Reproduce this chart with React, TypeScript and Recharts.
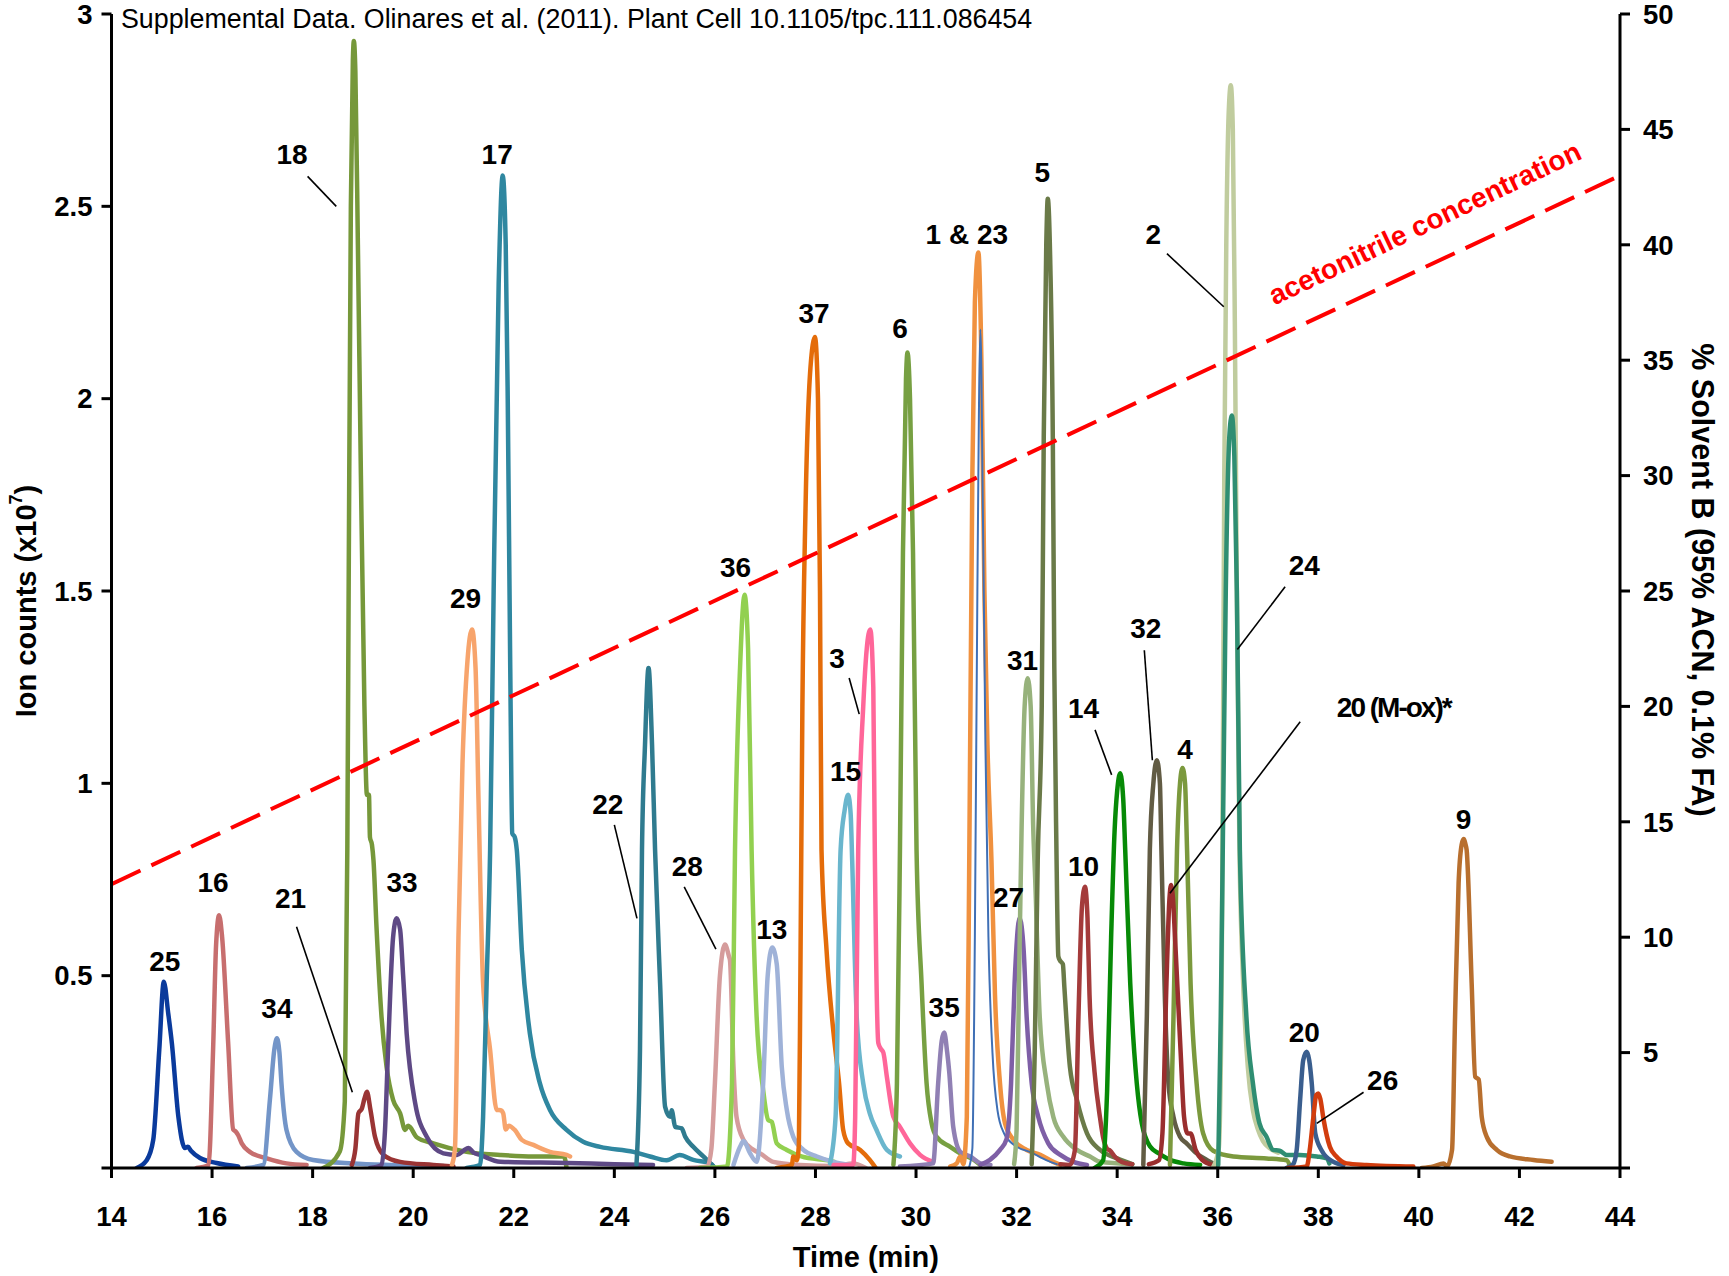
import React from 'react';
import { ComposedChart, Line, Scatter, XAxis, YAxis, ReferenceLine } from 'recharts';

const FONT = "'Liberation Sans', Arial, Helvetica, sans-serif";

// axis ticks
const TIME_TICKS = [14, 16, 18, 20, 22, 24, 26, 28, 30, 32, 34, 36, 38, 40, 42, 44];
const ION_TICKS = [0, 0.5, 1, 1.5, 2, 2.5, 3];
const SOLVENT_TICKS = [0, 5, 10, 15, 20, 25, 30, 35, 40, 45, 50];

// extracted ion chromatograms, [time (min), ion counts x10^7]
const PEAK_25 = [[14.5, 0], [14.7, 0.02], [14.83, 0.073], [14.95, 0.307], [15.04, 0.484], [15.13, 0.4], [15.2, 0.325], [15.33, 0.133], [15.46, 0.052], [15.52, 0.055], [15.58, 0.045], [15.76, 0.026], [16.09, 0.013], [16.52, 0.004]];
const PEAK_16 = [[15.69, 0], [15.93, 0.008], [16.02, 0.306], [16.08, 0.58], [16.14, 0.657], [16.2, 0.6], [16.32, 0.325], [16.42, 0.1], [16.47, 0.095], [16.52, 0.085], [16.59, 0.064], [16.75, 0.042], [17.09, 0.025], [17.48, 0.012], [17.88, 0.008]];
const PEAK_34 = [[16.69, 0], [17.02, 0.008], [17.15, 0.177], [17.24, 0.31], [17.29, 0.337], [17.34, 0.3], [17.38, 0.22], [17.48, 0.099], [17.68, 0.042], [18.01, 0.021], [18.8, 0.012], [19.6, 0.008], [20.6, 0.005]];
const PEAK_18 = [[18.21, 0], [18.54, 0.043], [18.64, 0.174], [18.69, 0.83], [18.72, 1.6], [18.76, 2.5], [18.8, 2.88], [18.82, 2.93], [18.85, 2.85], [18.9, 2.4], [18.96, 1.8], [19.03, 1.2], [19.08, 0.97], [19.12, 0.97], [19.14, 0.86], [19.18, 0.84], [19.21, 0.8], [19.27, 0.627], [19.37, 0.393], [19.47, 0.263], [19.6, 0.177], [19.74, 0.142], [19.84, 0.099], [19.9, 0.11], [19.94, 0.106], [20.07, 0.08], [20.4, 0.064], [21.06, 0.042], [21.73, 0.034], [22.39, 0.03], [23.0, 0.03], [23.05, 0]];
const PEAK_21 = [[18.78, 0.008], [18.85, 0.05], [18.91, 0.142], [18.98, 0.155], [19.03, 0.18], [19.08, 0.198], [19.15, 0.151], [19.24, 0.081], [19.41, 0.034], [19.74, 0.016], [20.4, 0.008], [20.8, 0.004]];
const PEAK_33 = [[19.14, 0], [19.37, 0.008], [19.44, 0.1], [19.5, 0.307], [19.6, 0.6], [19.67, 0.649], [19.74, 0.62], [19.8, 0.5], [19.87, 0.35], [20.04, 0.168], [20.27, 0.081], [20.6, 0.038], [20.87, 0.034], [21.0, 0.045], [21.1, 0.052], [21.2, 0.04], [21.33, 0.034], [21.73, 0.016], [23.05, 0.013], [24.0, 0.01], [24.77, 0.008]];
const PEAK_29 = [[20.77, 0.008], [20.83, 0.05], [20.9, 0.6], [20.98, 1.05], [21.08, 1.32], [21.17, 1.4], [21.24, 1.3], [21.3, 0.95], [21.39, 0.48], [21.53, 0.307], [21.66, 0.151], [21.74, 0.15], [21.79, 0.142], [21.84, 0.1], [21.9, 0.11], [22.02, 0.099], [22.16, 0.073], [22.39, 0.06], [22.72, 0.042], [23.05, 0.034], [23.12, 0.03]];
const PEAK_17 = [[21.06, 0], [21.33, 0.008], [21.39, 0.133], [21.46, 0.48], [21.53, 0.827], [21.6, 1.5], [21.7, 2.3], [21.78, 2.58], [21.84, 2.4], [21.88, 2.0], [21.93, 1.3], [21.97, 0.87], [22.02, 0.86], [22.06, 0.827], [22.16, 0.567], [22.32, 0.35], [22.52, 0.22], [22.72, 0.151], [23.05, 0.099], [23.38, 0.068], [23.72, 0.055], [24.38, 0.042], [24.71, 0.03], [25.04, 0.02], [25.3, 0.034], [25.57, 0.021], [25.9, 0.013], [26.0, 0]];
const PEAK_22 = [[24.44, 0.008], [24.51, 0.307], [24.55, 0.827], [24.61, 1.1], [24.68, 1.3], [24.75, 1.1], [24.81, 0.827], [24.91, 0.48], [25.01, 0.159], [25.11, 0.133], [25.14, 0.15], [25.21, 0.107], [25.34, 0.103], [25.41, 0.081], [25.57, 0.055], [25.77, 0.03], [25.97, 0.004]];
const PEAK_28 = [[25.44, 0], [25.85, 0.004], [25.93, 0.05], [26.0, 0.22], [26.1, 0.5], [26.2, 0.581], [26.28, 0.55], [26.3, 0.54], [26.37, 0.263], [26.43, 0.133], [26.57, 0.073], [26.77, 0.047], [26.9, 0.038], [27.16, 0.016], [27.69, 0.008], [28.36, 0.005], [28.75, 0.012], [29.0, 0]];
const PEAK_36 = [[25.7, 0], [26.24, 0.004], [26.34, 0.22], [26.4, 0.827], [26.5, 1.3], [26.59, 1.49], [26.66, 1.35], [26.73, 0.827], [26.83, 0.393], [26.96, 0.203], [27.06, 0.125], [27.13, 0.12], [27.23, 0.064], [27.43, 0.047], [27.72, 0.03], [28.38, 0.016], [28.42, 0]];
const PEAK_13 = [[26.37, 0.008], [26.5, 0.055], [26.57, 0.07], [26.7, 0.038], [26.83, 0.016], [26.96, 0.22], [27.05, 0.5], [27.14, 0.573], [27.23, 0.53], [27.33, 0.263], [27.43, 0.151], [27.56, 0.081], [27.76, 0.047], [28.03, 0.03], [28.36, 0.016], [28.69, 0.008]];
const PEAK_37 = [[27.23, 0], [27.53, 0.008], [27.56, 0.03], [27.63, 0.02], [27.67, 0.06], [27.7, 0.5], [27.74, 1.2], [27.8, 1.7], [27.9, 2.08], [27.99, 2.16], [28.05, 2.0], [28.09, 1.5], [28.12, 0.827], [28.22, 0.567], [28.36, 0.35], [28.47, 0.22], [28.55, 0.1], [28.65, 0.064], [28.89, 0.047], [29.08, 0.021], [29.2, 0]];
const PEAK_15 = [[28.29, 0.012], [28.4, 0.133], [28.5, 0.827], [28.58, 0.93], [28.65, 0.97], [28.7, 0.92], [28.73, 0.8], [28.82, 0.393], [28.95, 0.22], [29.08, 0.142], [29.21, 0.1], [29.42, 0.047], [29.68, 0.03]];
const PEAK_3 = [[28.36, 0.008], [28.75, 0.008], [28.79, 0.133], [28.85, 0.827], [28.95, 1.2], [29.02, 1.35], [29.09, 1.4], [29.15, 1.25], [29.18, 0.827], [29.25, 0.325], [29.3, 0.31], [29.35, 0.3], [29.42, 0.237], [29.55, 0.133], [29.68, 0.107], [29.88, 0.064], [30.08, 0.034], [30.34, 0.016]];
const PEAK_6 = [[29.55, 0.008], [29.62, 0.22], [29.68, 0.827], [29.74, 1.6], [29.8, 2.05], [29.83, 2.12], [29.88, 2.0], [29.94, 1.6], [30.01, 0.827], [30.11, 0.48], [30.21, 0.22], [30.31, 0.116], [30.41, 0.081], [30.68, 0.055], [30.88, 0.038], [31.15, 0.021], [31.28, 0.008]];
const PEAK_35 = [[29.68, 0.004], [30.34, 0.012], [30.44, 0.22], [30.51, 0.33], [30.56, 0.352], [30.62, 0.3], [30.66, 0.25], [30.74, 0.107], [30.88, 0.042], [31.08, 0.03], [31.28, 0.012], [31.48, 0.008]];
const PEAK_1 = [[30.68, 0.004], [30.81, 0.012], [30.88, 0.03], [30.94, 0.01], [31.01, 0.133], [31.06, 0.827], [31.12, 1.8], [31.17, 2.25], [31.24, 2.38], [31.3, 2.1], [31.36, 1.5], [31.42, 1.1], [31.5, 0.8], [31.57, 0.45], [31.67, 0.22], [31.77, 0.116], [31.94, 0.073], [32.2, 0.047], [32.47, 0.034], [32.73, 0.016], [32.87, 0.008]];
const PEAK_23 = [[31.05, 0], [31.12, 0.05], [31.17, 0.6], [31.22, 1.5], [31.28, 2.18], [31.33, 1.7], [31.38, 1.1], [31.44, 0.6], [31.52, 0.3], [31.62, 0.15], [31.75, 0.09], [31.95, 0.06], [32.3, 0.04], [32.6, 0.02], [32.8, 0.01]];
const PEAK_27 = [[31.28, 0.008], [31.47, 0.021], [31.67, 0.047], [31.8, 0.075], [31.89, 0.22], [31.96, 0.48], [32.06, 0.649], [32.14, 0.567], [32.2, 0.393], [32.3, 0.22], [32.43, 0.133], [32.63, 0.064], [32.87, 0.034], [33.13, 0.016], [33.4, 0.008]];
const PEAK_31 = [[31.95, 0.01], [32.0, 0.1], [32.05, 0.5], [32.1, 0.887], [32.16, 1.2], [32.22, 1.273], [32.28, 1.2], [32.33, 0.887], [32.37, 0.75], [32.46, 0.393], [32.6, 0.22], [32.73, 0.133], [32.93, 0.081], [33.2, 0.047], [33.46, 0.03], [33.66, 0.016], [34.3, 0.01]];
const PEAK_5 = [[32.3, 0.01], [32.36, 0.3], [32.42, 0.8], [32.5, 1.2], [32.54, 1.9], [32.59, 2.4], [32.62, 2.52], [32.67, 2.35], [32.72, 1.9], [32.75, 1.3], [32.79, 0.85], [32.83, 0.55], [32.86, 0.54], [32.92, 0.53], [32.95, 0.47], [33.06, 0.263], [33.2, 0.177], [33.4, 0.09], [33.66, 0.047], [34.0, 0.025], [34.3, 0.01]];
const PEAK_10 = [[32.87, 0.01], [33.06, 0.008], [33.16, 0.047], [33.23, 0.393], [33.3, 0.68], [33.36, 0.731], [33.41, 0.65], [33.45, 0.45], [33.55, 0.25], [33.66, 0.13], [33.72, 0.08], [33.8, 0.05], [33.86, 0.045], [33.95, 0.03], [34.1, 0.015], [34.3, 0.01]];
const PEAK_14 = [[33.55, 0], [33.72, 0.02], [33.8, 0.2], [33.88, 0.6], [33.95, 0.88], [34.0, 0.98], [34.06, 1.026], [34.12, 0.96], [34.16, 0.827], [34.26, 0.48], [34.39, 0.22], [34.49, 0.116], [34.66, 0.055], [34.83, 0.038], [35.05, 0.021], [35.32, 0.012], [35.65, 0.008]];
const PEAK_32 = [[34.52, 0.008], [34.59, 0.393], [34.65, 0.827], [34.72, 1.0], [34.79, 1.06], [34.85, 1.0], [34.88, 0.827], [34.95, 0.437], [35.02, 0.22], [35.12, 0.133], [35.25, 0.081], [35.38, 0.064], [35.58, 0.038], [35.78, 0.021], [35.98, 0.008]];
const PEAK_4 = [[35.05, 0.008], [35.12, 0.393], [35.19, 0.827], [35.25, 1.0], [35.3, 1.04], [35.35, 1.0], [35.39, 0.827], [35.46, 0.48], [35.58, 0.22], [35.71, 0.09], [35.91, 0.045], [36.31, 0.03], [36.97, 0.025], [37.37, 0.02], [37.45, 0]];
const PEAK_20_MOX = [[34.63, 0.01], [34.83, 0.02], [34.9, 0.09], [34.98, 0.48], [35.04, 0.7], [35.07, 0.736], [35.11, 0.7], [35.15, 0.6], [35.26, 0.307], [35.33, 0.133], [35.4, 0.09], [35.46, 0.09], [35.56, 0.047], [35.69, 0.021], [35.89, 0.008]];
const PEAK_2 = [[35.9, 0], [36.02, 0.05], [36.08, 0.5], [36.13, 1.8], [36.17, 2.4], [36.22, 2.75], [36.26, 2.815], [36.3, 2.7], [36.34, 2.2], [36.38, 1.5], [36.43, 0.85], [36.5, 0.5], [36.6, 0.26], [36.7, 0.15], [36.8, 0.1], [36.9, 0.07], [37.05, 0.05], [37.2, 0.04]];
const PEAK_24 = [[36.01, 0.008], [36.06, 0.393], [36.1, 0.827], [36.16, 1.5], [36.23, 1.9], [36.28, 1.956], [36.33, 1.85], [36.38, 1.5], [36.44, 0.827], [36.57, 0.393], [36.7, 0.22], [36.83, 0.116], [36.97, 0.081], [37.1, 0.047], [37.23, 0.045], [37.37, 0.034], [37.63, 0.034], [37.97, 0.03], [38.17, 0.025], [38.22, 0.012]];
const PEAK_20 = [[37.37, 0], [37.5, 0.01], [37.57, 0.047], [37.64, 0.18], [37.7, 0.28], [37.77, 0.302], [37.82, 0.28], [37.87, 0.22], [37.94, 0.09], [38.07, 0.045], [38.3, 0.016], [38.5, 0.008]];
const PEAK_26 = [[37.4, 0], [37.77, 0.004], [37.83, 0.047], [37.9, 0.13], [37.96, 0.19], [38.0, 0.194], [38.04, 0.18], [38.1, 0.13], [38.23, 0.055], [38.36, 0.03], [38.56, 0.012], [38.96, 0.008], [39.89, 0.004]];
const PEAK_9 = [[40.06, 0], [40.29, 0.004], [40.49, 0.012], [40.56, 0.004], [40.66, 0.047], [40.72, 0.393], [40.79, 0.74], [40.85, 0.84], [40.89, 0.855], [40.93, 0.84], [40.95, 0.827], [41.05, 0.48], [41.12, 0.237], [41.19, 0.23], [41.25, 0.133], [41.35, 0.081], [41.55, 0.047], [41.81, 0.03], [42.28, 0.021], [42.64, 0.016]];

// acetonitrile gradient, [time, % solvent B]
const ACN_GRADIENT = [[14, 12.3], [44, 43.0]];

// peak numbers, anchored at [time, ion counts]
const PEAK_LABELS = [
  { text: '25', t: 15.06, v: 0.536 }, { text: '16', t: 16.02, v: 0.743 }, { text: '34', t: 17.29, v: 0.415 },
  { text: '18', t: 17.59, v: 2.635 }, { text: '21', t: 17.56, v: 0.701 }, { text: '33', t: 19.78, v: 0.743 },
  { text: '29', t: 21.04, v: 1.48 }, { text: '17', t: 21.67, v: 2.635 }, { text: '22', t: 23.87, v: 0.946 },
  { text: '28', t: 25.45, v: 0.785 }, { text: '36', t: 26.41, v: 1.56 }, { text: '13', t: 27.13, v: 0.621 },
  { text: '37', t: 27.97, v: 2.222 }, { text: '15', t: 28.6, v: 1.03 }, { text: '3', t: 28.43, v: 1.325 },
  { text: '6', t: 29.68, v: 2.182 }, { text: '35', t: 30.56, v: 0.417 }, { text: '1 & 23', t: 31.01, v: 2.428 },
  { text: '27', t: 31.84, v: 0.704 }, { text: '31', t: 32.12, v: 1.32 }, { text: '5', t: 32.51, v: 2.589 },
  { text: '10', t: 33.33, v: 0.785 }, { text: '14', t: 33.33, v: 1.195 }, { text: '32', t: 34.57, v: 1.403 },
  { text: '4', t: 35.35, v: 1.088 }, { text: '2', t: 34.72, v: 2.428 }, { text: '24', t: 37.72, v: 1.565 },
  { text: '20 (M-ox)*', t: 39.5, v: 1.196 }, { text: '20', t: 37.72, v: 0.352 }, { text: '26', t: 39.28, v: 0.227 },
  { text: '9', t: 40.89, v: 0.906 },
];

// leader lines, [t1, v1, t2, v2]
const LEADERS = [
  [17.9, 2.578, 18.47, 2.5], [17.68, 0.627, 18.79, 0.197], [24.0, 0.892, 24.45, 0.649],
  [25.39, 0.731, 26.02, 0.569], [28.67, 1.274, 28.87, 1.18], [33.56, 1.139, 33.89, 1.022],
  [34.54, 1.346, 34.7, 1.06], [34.99, 2.377, 36.12, 2.239], [37.34, 1.511, 36.39, 1.348],
  [37.64, 1.16, 35.05, 0.714], [38.9, 0.197, 37.97, 0.116],
];

const GRADIENT_LABEL = [{ text: 'acetonitrile concentration', t: 40.12, v: 40.93 }];

const SERIES = [
  { name: '25', color: '#0A3A9C', points: PEAK_25 },
  { name: '16', color: '#C76E6E', points: PEAK_16 },
  { name: '34', color: '#7395C8', points: PEAK_34 },
  { name: '18', color: '#76983A', points: PEAK_18 },
  { name: '21', color: '#9A3434', points: PEAK_21 },
  { name: '33', color: '#5E4985', points: PEAK_33 },
  { name: '29', color: '#F7A46C', points: PEAK_29 },
  { name: '17', color: '#2F87A0', points: PEAK_17 },
  { name: '22', color: '#2F7B8F', points: PEAK_22 },
  { name: '28', color: '#D59C9C', points: PEAK_28 },
  { name: '36', color: '#92D050', points: PEAK_36 },
  { name: '13', color: '#9FB2D8', points: PEAK_13 },
  { name: '37', color: '#E46C0A', points: PEAK_37 },
  { name: '15', color: '#6AB6CD', points: PEAK_15 },
  { name: '3', color: '#FF6699', points: PEAK_3 },
  { name: '6', color: '#77A042', points: PEAK_6 },
  { name: '35', color: '#9080B4', points: PEAK_35 },
  { name: '1', color: '#F0913F', points: PEAK_1 },
  { name: '23', color: '#3F6FB5', points: PEAK_23 },
  { name: '27', color: '#7E5FA6', points: PEAK_27 },
  { name: '31', color: '#97B27C', points: PEAK_31 },
  { name: '5', color: '#6A7A48', points: PEAK_5 },
  { name: '10', color: '#A43B3B', points: PEAK_10 },
  { name: '14', color: '#078A07', points: PEAK_14 },
  { name: '32', color: '#625C44', points: PEAK_32 },
  { name: '4', color: '#7B993D', points: PEAK_4 },
  { name: '20 (M-ox)', color: '#9A2E2E', points: PEAK_20_MOX },
  { name: '2', color: '#C0CC9E', points: PEAK_2 },
  { name: '24', color: '#2F8E72', points: PEAK_24 },
  { name: '20', color: '#3A5E8E', points: PEAK_20 },
  { name: '26', color: '#D23D0E', points: PEAK_26 },
  { name: '9', color: '#B86F2E', points: PEAK_9 },
];
const THIN = new Set(['23']);

const toRows = (pts: number[][]) => pts.map(([t, v]) => ({ t, v }));

// chart covers the whole page, so chart coords = page coords
const W = 1729;
const H = 1276;
const LEFT_W = 111.5;
const RIGHT_W = 109;
const X_H = 108;
const TOP = 14;

const tickStyle = { fontSize: 27.5, fontWeight: 'bold', fill: '#000', fontFamily: FONT };
const axisStroke = { stroke: '#000', strokeWidth: 3 };

function PeakLabel(props: any) {
  const { cx, cy, payload } = props;
  if (cx == null || cy == null) return null;
  const long = payload.text.length > 6;
  return (
    <text
      x={cx} y={cy} textAnchor="middle" dominantBaseline="central" fontFamily={FONT}
      fontSize={28} letterSpacing={long ? -2 : 0} fontWeight="bold" fill="#000"
    >
      {payload.text}
    </text>
  );
}

function GradientLabel(props: any) {
  const { cx, cy, payload } = props;
  if (cx == null || cy == null) return null;
  return (
    <text x={cx} y={cy} textAnchor="middle" dominantBaseline="central" fontFamily={FONT} fontSize={28} fontWeight="bold" fill="#FF0000" transform={`rotate(-25.5 ${cx} ${cy})`}>
      {payload.text}
    </text>
  );
}

function TimeTitle() {
  const cx = LEFT_W + (W - LEFT_W - RIGHT_W) / 2;
  return (
    <text x={cx} y={1257} textAnchor="middle" dominantBaseline="central" fontFamily={FONT} fontSize={29} fontWeight="bold" fill="#000">
      Time (min)
    </text>
  );
}

function IonTitle() {
  return (
    <g>
      <text x={26} y={601} textAnchor="middle" dominantBaseline="central" fontFamily={FONT} fontSize={29} fontWeight="bold" fill="#000" transform="rotate(-90 26 601)">
        Ion counts (x10<tspan fontSize={18} dy={-10}>7</tspan><tspan dy={10}>)</tspan>
      </text>
      <text x={121} y={19} dominantBaseline="central" fontFamily={FONT} fontSize={26.8} fill="#000">
        Supplemental Data. Olinares et al. (2011). Plant Cell 10.1105/tpc.111.086454
      </text>
    </g>
  );
}

function SolventTitle() {
  return (
    <text x={1703} y={580} textAnchor="middle" dominantBaseline="central" fontFamily={FONT} fontSize={30.5} fontWeight="bold" fill="#000" transform="rotate(90 1703 580)">
      % Solvent B (95% ACN, 0.1% FA)
    </text>
  );
}

export default function App() {
  return (
    <div style={{ position: 'absolute', left: 0, top: 0, width: W, height: H, fontFamily: FONT }}>
      <ComposedChart width={W} height={H} margin={{ top: TOP, right: 0, bottom: 0, left: 0 }}>
        <XAxis
          dataKey="t" type="number" domain={[14, 44]} ticks={TIME_TICKS} interval={0} allowDataOverflow
          height={X_H} tickSize={10} tickMargin={28} axisLine={axisStroke} tickLine={axisStroke} tick={tickStyle}
          label={<TimeTitle />}
        />
        <YAxis
          yAxisId="left" type="number" domain={[0, 3]} ticks={ION_TICKS} interval={0} allowDataOverflow
          width={LEFT_W} tickSize={10} tickMargin={9} axisLine={axisStroke} tickLine={axisStroke} tick={tickStyle}
          tickFormatter={(v: number) => (v === 0 ? '' : String(v))}
          label={<IonTitle />}
        />
        <YAxis
          yAxisId="right" orientation="right" type="number" domain={[0, 50]} ticks={SOLVENT_TICKS} interval={0} allowDataOverflow
          width={RIGHT_W} tickSize={10} tickMargin={13} axisLine={axisStroke} tickLine={axisStroke} tick={{ ...tickStyle, textAnchor: 'start' }}
          tickFormatter={(v: number) => (v === 0 ? '' : String(v))}
          label={<SolventTitle />}
        />
        {SERIES.map((s) => (
          <Line
            key={s.name} name={s.name} yAxisId="left" type="monotone" data={toRows(s.points)} dataKey="v"
            stroke={s.color} strokeWidth={THIN.has(s.name) ? 2 : 4.5} strokeLinejoin="round" strokeLinecap="round"
            dot={false} activeDot={false} isAnimationActive={false}
          />
        ))}
        <Line
          yAxisId="right" type="linear" data={toRows(ACN_GRADIENT)} dataKey="v" stroke="#FF0000" strokeWidth={4}
          strokeDasharray="32 12" dot={false} activeDot={false} isAnimationActive={false}
        />
        {LEADERS.map(([t1, v1, t2, v2], i) => (
          <ReferenceLine
            key={`leader-${i}`} yAxisId="left" segment={[{ x: t1, y: v1 }, { x: t2, y: v2 }]}
            stroke="#000" strokeWidth={1.6} ifOverflow="visible"
          />
        ))}
        <Scatter yAxisId="left" data={PEAK_LABELS} dataKey="v" shape={(p: any) => <PeakLabel {...p} />} isAnimationActive={false} />
        <Scatter yAxisId="right" data={GRADIENT_LABEL} dataKey="v" shape={(p: any) => <GradientLabel {...p} />} isAnimationActive={false} />
      </ComposedChart>
    </div>
  );
}
